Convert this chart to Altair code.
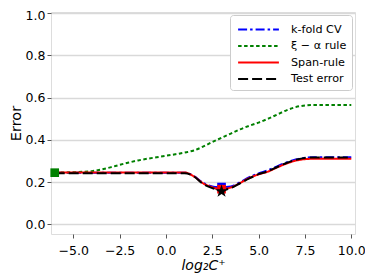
import altair as alt
import pandas as pd

x_vals = [-6.0, -5.5, -5.0, -4.5, -4.0, -3.5, -3.0, -2.5, -2.0, -1.5, -1.0, -0.5,
          0.0, 0.5, 1.0, 1.5, 2.0, 2.5, 3.0, 3.5, 4.0, 4.5, 5.0, 5.5, 6.0, 6.5,
          7.0, 7.5, 8.0, 8.5, 9.0, 9.5, 10.0]

kfold = [0.245] * 15 + [0.230, 0.197, 0.180, 0.176, 0.180, 0.200, 0.224, 0.242,
                        0.256, 0.275, 0.293, 0.307, 0.316, 0.318, 0.318, 0.318, 0.318, 0.318]
xi_alpha = [0.245, 0.246, 0.247, 0.249, 0.252, 0.260, 0.270, 0.282, 0.293, 0.303,
            0.311, 0.318, 0.325, 0.332, 0.340, 0.350, 0.368, 0.390, 0.410, 0.430,
            0.450, 0.467, 0.482, 0.500, 0.520, 0.540, 0.555, 0.563, 0.565, 0.565,
            0.565, 0.565, 0.565]
span = [0.246] * 15 + [0.228, 0.195, 0.176, 0.168, 0.175, 0.196, 0.220, 0.237,
                       0.250, 0.270, 0.288, 0.302, 0.309, 0.311, 0.311, 0.311, 0.311, 0.311]
test = [0.242] * 15 + [0.228, 0.192, 0.172, 0.163, 0.172, 0.195, 0.218, 0.238,
                       0.252, 0.272, 0.291, 0.306, 0.315, 0.317, 0.317, 0.317, 0.317, 0.317]

series_names = ["k-fold CV", "ξ − α rule", "Span-rule", "Test error"]
series_colors = ["#0000ff", "#008000", "#ff0000", "#000000"]
series_dashes = [[9, 3, 2.5, 3], [3.5, 2.5], [1, 0], [10, 4]]

marker_x = [-6.0, 3.0, 3.0, 3.0]
marker_y = [0.245, 0.177, 0.167, 0.157]
marker_color = ["#008000", "#0000ff", "#ff0000", "#000000"]
marker_kind = ["square", "square", "square", "star"]

x_ticks = [-5.0, -2.5, 0.0, 2.5, 5.0, 7.5, 10.0]
y_ticks = [0.0, 0.2, 0.4, 0.6, 0.8, 1.0]

rows = []
for name, vals in zip(series_names, [kfold, xi_alpha, span, test]):
    for xv, yv in zip(x_vals, vals):
        rows.append({"x": xv, "y": yv, "series": name})
df = pd.DataFrame(rows)
mk = pd.DataFrame({"x": marker_x, "y": marker_y, "c": marker_color, "kind": marker_kind})

FONT = "DejaVu Sans"
xscale = alt.Scale(domain=[-6.2, 10.2], nice=False, zero=False)
yscale = alt.Scale(domain=[-0.045, 1.005], nice=False, zero=False)

xaxis = alt.Axis(values=x_ticks, format=".1f", title="log₂C⁺", grid=False,
                 titleFontStyle="italic", titleFontWeight="normal", titleFontSize=14,
                 titleFont=FONT, labelFont=FONT, labelFontSize=12.5, labelColor="black",
                 titleColor="black", tickSize=4, tickColor="#555", domain=False,
                 labelPadding=6, titlePadding=2, labelFlush=False)
yaxis = alt.Axis(values=y_ticks, format=".1f", title="Error", grid=True,
                 gridColor="#d9d9d9", gridWidth=1.5,
                 titleFontWeight="normal", titleFontSize=14.5, titleFont=FONT,
                 labelFont=FONT, labelFontSize=12.5, labelColor="black", titleColor="black",
                 labelOffset={"condition": {"test": "datum.value >= 0.99", "value": 2}, "value": 0},
                 tickSize=4, tickColor="#555", domain=False, labelPadding=2, titlePadding=2)

LINE_SYM = "M-2.4,0H2.4"
legend_kw = dict(title=None, orient="none", legendX=179, legendY=3,
                 symbolType=LINE_SYM, symbolSize=289, symbolOffset=14,
                 symbolStrokeWidth=2, labelFont=FONT,
                 labelFontSize=11.2, labelColor="black",
                 labelOffset=23, rowPadding=1.5, padding=5,
                 fillColor="white", strokeColor="#cccccc",
                 cornerRadius=3, labelLimit=200)

color_enc = alt.Color("series:N", scale=alt.Scale(domain=series_names, range=series_colors),
                      legend=alt.Legend(**legend_kw))
dash_enc = alt.StrokeDash("series:N", scale=alt.Scale(domain=series_names, range=series_dashes),
                          legend=alt.Legend(**legend_kw))

layers = []
for i, name in enumerate(series_names):
    layers.append(
        alt.Chart(df).transform_filter(alt.datum.series == name)
        .mark_line(strokeWidth=2, interpolate="monotone", clip=True)
        .encode(x=alt.X("x:Q", scale=xscale, axis=xaxis),
                y=alt.Y("y:Q", scale=yscale, axis=yaxis),
                color=color_enc, strokeDash=dash_enc)
    )

STAR = "M0,-1L0.2245,-0.309L0.951,-0.309L0.363,0.118L0.588,0.809L0,0.382L-0.588,0.809L-0.363,0.118L-0.951,-0.309L-0.2245,-0.309Z"
squares = alt.Chart(mk).transform_filter(alt.datum.kind == "square").mark_point(
    shape="square", filled=True, size=75, opacity=1, strokeWidth=0).encode(
    x=alt.X("x:Q", scale=xscale), y=alt.Y("y:Q", scale=yscale),
    color=alt.Color("c:N", scale=None, legend=None))
star = alt.Chart(mk).transform_filter(alt.datum.kind == "star").mark_point(
    shape=STAR, filled=True, size=190, opacity=1, strokeWidth=0).encode(
    x=alt.X("x:Q", scale=xscale), y=alt.Y("y:Q", scale=yscale),
    color=alt.Color("c:N", scale=None, legend=None))

chart = alt.layer(*layers, squares, star).properties(
    width=304, height=222,
    autosize=alt.AutoSizeParams(type="none"),
    padding={"left": 43, "top": 4, "right": 10, "bottom": 45},
).configure_view(stroke="#888888", strokeWidth=1.2).configure(background="white")

chart.save("out.html", embed_options={"renderer": "svg", "actions": False})
